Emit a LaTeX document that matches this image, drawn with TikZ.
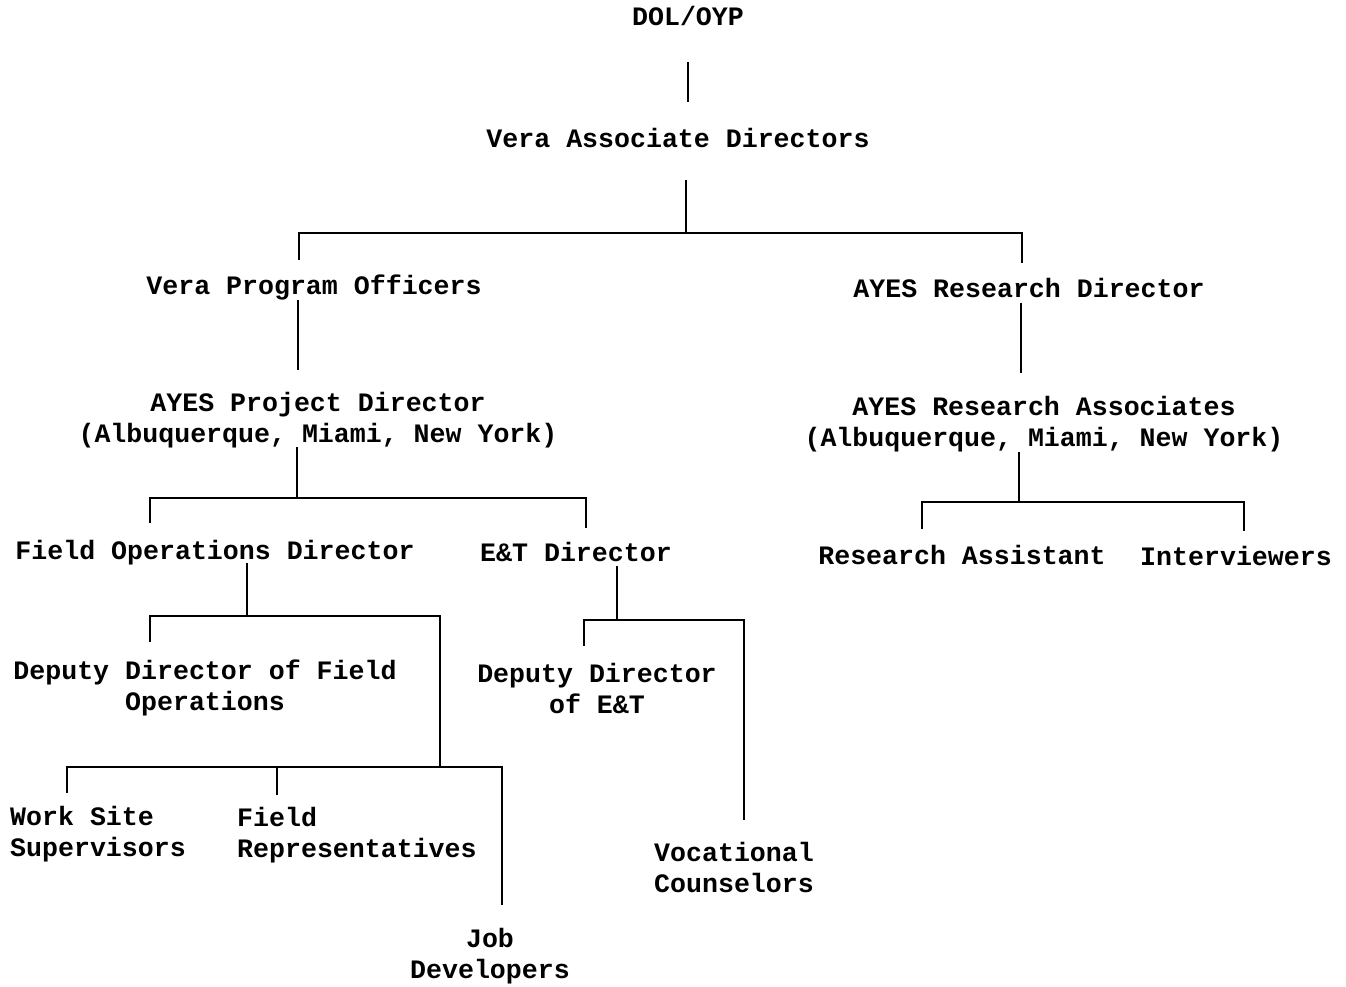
\documentclass[tikz,border=0pt]{standalone}
\usepackage{fontspec}
\setmonofont{Liberation Mono}
\begin{document}
\begin{tikzpicture}[x=1pt,y=-1pt,
  lbl/.style={font=\ttfamily\bfseries\fontsize{26.6}{30.5}\selectfont, inner sep=0pt, anchor=base},
  lblc/.style={lbl, align=center},
  lbll/.style={lbl, align=left, anchor=base west},
  conn/.style={line width=2.2pt, line cap=butt}]
\useasboundingbox (0,0) rectangle (1346,986);
% nodes (multi-line nodes: base = baseline of last line)
\node[lbl] (dol) at (688,25) {DOL/OYP};
\node[lbl] (vad) at (678,147) {Vera Associate Directors};
\node[lbl] (vpo) at (314,294) {Vera Program Officers};
\node[lbl] (ard) at (1029,297) {AYES Research Director};
\node[lblc] (apd) at (318,442) {AYES Project Director\\(Albuquerque, Miami, New York)};
\node[lblc] (ara) at (1044,446) {AYES Research Associates\\(Albuquerque, Miami, New York)};
\node[lbl] (fod) at (215,559) {Field Operations Director};
\node[lbl] (etd) at (576,561) {E\&T Director};
\node[lbl] (rsa) at (962,564) {Research Assistant};
\node[lbl] (int) at (1236,565) {Interviewers};
\node[lblc] (ddf) at (205,710) {Deputy Director of Field\\Operations};
\node[lblc] (dde) at (597,713) {Deputy Director\\of E\&T};
\node[lbll] (wss) at (10,856) {Work Site\\Supervisors};
\node[lbll] (frp) at (237,857) {Field\\Representatives};
\node[lbll] (voc) at (654,892) {Vocational\\Counselors};
\node[lblc] (jdv) at (490,978) {Job\\Developers};
% connector ends
\coordinate (dolB) at (688,62);   \coordinate (vadT) at (688,102);
\coordinate (vadB) at (686,180);  \coordinate (b1) at (686,233);
\coordinate (vpoT) at (299,260);  \coordinate (ardT) at (1022,263);
\coordinate (vpoB) at (298,300);  \coordinate (apdT) at (298,370);
\coordinate (ardB) at (1021,303); \coordinate (araT) at (1021,373);
\coordinate (apdB) at (297,447);  \coordinate (b2) at (297,498);
\coordinate (fodT) at (150,523);  \coordinate (etdT) at (586,528);
\coordinate (araB) at (1019,452); \coordinate (b3) at (1019,502);
\coordinate (rsaT) at (922,529);  \coordinate (intT) at (1244,531);
\coordinate (fodB) at (247,563);  \coordinate (b4) at (247,616);
\coordinate (ddfT) at (150,642);  \coordinate (b5) at (440,767);
\coordinate (etdB) at (617,566);  \coordinate (b6) at (617,620);
\coordinate (ddeT) at (584,646);  \coordinate (vocT) at (744,820);
\coordinate (wssT) at (67,793);   \coordinate (frpT) at (277,795);
\coordinate (jdvT) at (502,905);
% connectors
\draw[conn] (dolB) -- (vadT);
\draw[conn] (vadB) -- (b1);
\draw[conn] (vpoT) |- (b1) -| (ardT);
\draw[conn] (vpoB) -- (apdT);
\draw[conn] (ardB) -- (araT);
\draw[conn] (apdB) -- (b2);
\draw[conn] (fodT) |- (b2) -| (etdT);
\draw[conn] (araB) -- (b3);
\draw[conn] (rsaT) |- (b3) -| (intT);
\draw[conn] (fodB) -- (b4);
\draw[conn] (ddfT) |- (b4) -| (b5);
\draw[conn] (etdB) -- (b6);
\draw[conn] (ddeT) |- (b6) -| (vocT);
\draw[conn] (wssT) |- (b5) -| (jdvT);
\draw[conn] (frpT) -- (frpT |- b5);
\end{tikzpicture}
\end{document}
